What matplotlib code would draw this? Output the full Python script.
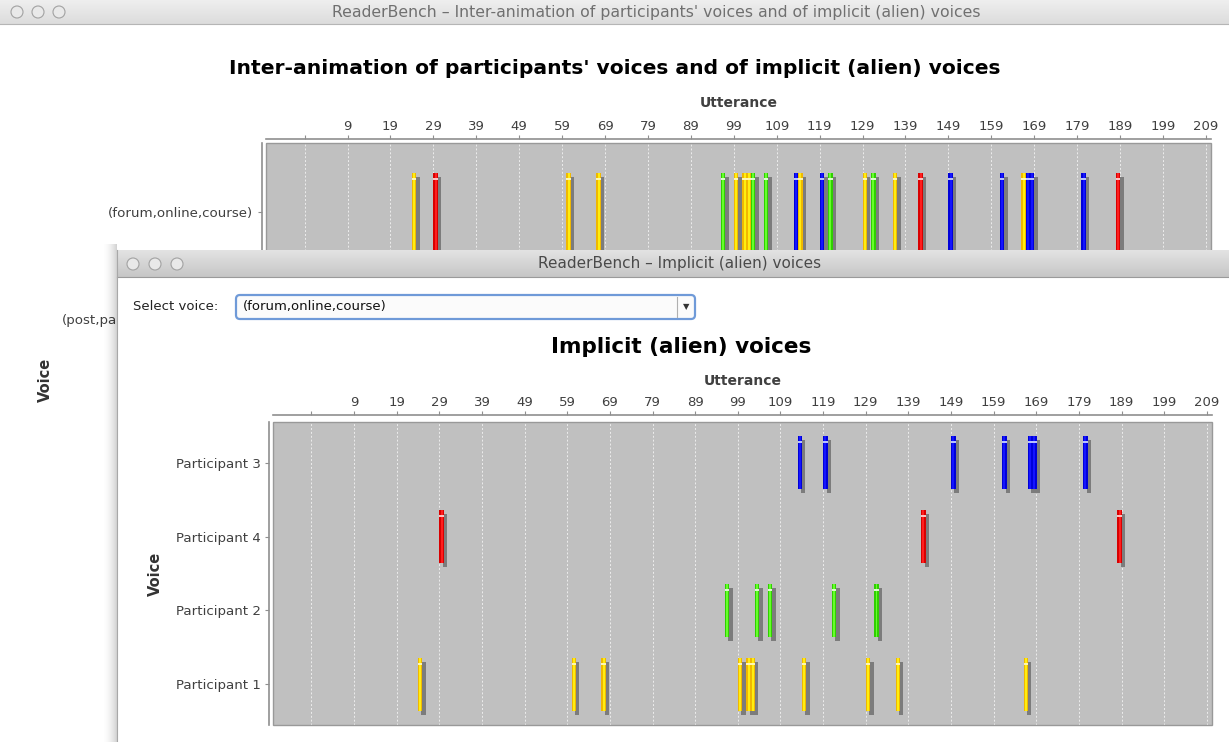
import numpy as np
import matplotlib.pyplot as plt
from matplotlib.patches import Rectangle, Circle, FancyBboxPatch
from matplotlib.colors import to_rgb

# utterances in which each participant's (alien) voice occurs
p1_utterances = [24, 60, 67, 99, 101, 102, 114, 129, 136, 166]
p2_utterances = [96, 103, 106, 121, 131]
p3_utterances = [113, 119, 149, 161, 167, 168, 180]
p4_utterances = [29, 142, 188]

# rows of the lower chart, top to bottom
participants = ['Participant 3', 'Participant 4', 'Participant 2', 'Participant 1']
# rows of the upper chart (only the first two are visible)
top_voices = ['(forum,online,course)', '(post,participant,comments)']
x_ticks = list(range(-1, 210, 10))

utterances = {
    'Participant 1': p1_utterances,
    'Participant 2': p2_utterances,
    'Participant 3': p3_utterances,
    'Participant 4': p4_utterances,
}
# base, light centre, highlight
colors = {
    'Participant 1': ('#F0B800', '#FFEE10', '#FFF6B0'),
    'Participant 2': ('#2FCF00', '#66FF2A', '#D8FFC8'),
    'Participant 3': ('#0000D8', '#1414FF', '#B8C0FF'),
    'Participant 4': ('#D80000', '#FF1E1E', '#FFC0C0'),
}

W, H = 1229, 742
plt.rcParams['font.family'] = 'DejaVu Sans'
fig = plt.figure(figsize=(W / 100, H / 100), dpi=100)
fig.patch.set_facecolor('white')


def frac(x0, y0, x1, y1):
    return [x0 / W, 1 - y1 / H, (x1 - x0) / W, (y1 - y0) / H]


def pixel_axes(x0, y0, x1, y1, z):
    a = fig.add_axes(frac(x0, y0, x1, y1), zorder=z)
    a.axis('off')
    return a


def vgrad(a, x0, x1, y0, y1, c0, c1):
    t = np.linspace(0, 1, 64)[:, None, None]
    img = (1 - t) * np.array(to_rgb(c0)) + t * np.array(to_rgb(c1))
    a.imshow(img, extent=(x0, x1, y1, y0), aspect='auto', interpolation='bilinear', zorder=1)


def buttons(a, xs, y):
    for x in xs:
        a.add_patch(Circle((x, y), 6, fc='#E9E9E9', ec='#A2A2A2', lw=0.8, zorder=3))


def style_chart(ax, top_out, left_out):
    ax.set_facecolor('#C0C0C0')
    ax.set_xlim(-10, 210.2)
    ax.xaxis.tick_top()
    ax.set_xticks(x_ticks, ['' if t < 0 else str(t) for t in x_ticks])
    ax.grid(axis='x', color='#EDEDED', linestyle=(0, (2, 2)), linewidth=0.7)
    ax.set_axisbelow(True)
    for s in ['bottom', 'right']:
        ax.spines[s].set_visible(False)
    ax.spines['top'].set_position(('outward', top_out))
    ax.spines['left'].set_position(('outward', left_out))
    for s in ['top', 'left']:
        ax.spines[s].set_color('#8F8F8F')
        ax.spines[s].set_linewidth(1.2)
    ax.add_patch(Rectangle((0, 0), 1, 1, transform=ax.transAxes, fill=False,
                           ec='#999999', lw=1.0, zorder=6, clip_on=False))
    ax.tick_params(axis='x', top=True, bottom=False, length=3, width=0.8, color='#8F8F8F',
                   labelsize=9.5, labelcolor='#404040', pad=1.5)
    ax.tick_params(axis='y', length=3, width=0.8, color='#8F8F8F',
                   labelsize=9.6, labelcolor='#404040', pad=3)
    ax.set_xlabel('Utterance', fontsize=10, weight='bold', color='#404040')
    ax.xaxis.set_label_position('top')
    ax.xaxis.label.set_va('center')
    ax.set_ylabel('Voice', fontsize=10.5, weight='bold', color='#333333')
    ax.yaxis.label.set_va('center')


def draw_bars(ax, row, xs, who, px_y):
    base, light, hi = colors[who]
    xs = np.asarray(xs, float)
    half = 0.36
    bw = 1.05
    ax.bar(xs + 0.8, 2 * half, bottom=row - half + 4 / px_y, width=bw, align='edge',
           color='#7C7C7C', zorder=2)
    ax.bar(xs, 2 * half, bottom=row - half, width=bw, align='edge', color=base, zorder=3)
    ax.bar(xs + 0.3, 2 * half, bottom=row - half, width=0.45, align='edge', color=light, zorder=4)
    ax.bar(xs, 2 / px_y, bottom=row - half + 5 / px_y, width=bw, align='edge', color=hi, zorder=5)


# ---- back window ----
bg = pixel_axes(0, 0, W, H, 0)
vgrad(bg, 0, W, 0, 24, '#EFEFEF', '#DCDCDC')
bg.plot([0, W], [24, 24], color='#B5B5B5', lw=0.8)
buttons(bg, [17, 38, 59], 12)
bg.text(656, 12, "ReaderBench – Inter-animation of participants' voices and of implicit (alien) voices",
        ha='center', va='center', fontsize=11.3, color='#707070')
bg.text(615, 68, "Inter-animation of participants' voices and of implicit (alien) voices",
        ha='center', va='center', fontsize=14.6, weight='bold', color='black')
bg.set_xlim(0, W)
bg.set_ylim(H, 0)

ax1 = fig.add_axes(frac(266, 143, 1211, 601), zorder=1)
style_chart(ax1, 3, 3)
ax1.set_ylim(3.645, -0.645)
ax1.set_yticks(range(len(top_voices)), top_voices)
for who in ['Participant 1', 'Participant 2', 'Participant 3', 'Participant 4']:
    draw_bars(ax1, 0, utterances[who], who, 107)
ax1.xaxis.set_label_coords(0.5, 1 + 40 / 458)
ax1.yaxis.set_label_coords((45 - 266) / 945, (601 - 380) / 458)

# ---- front window ----
win = pixel_axes(95, 235, W, H, 5)
sh = np.zeros((1, 32, 4))
sh[..., 3] = np.linspace(0, 1, 32) ** 2 * 0.18
win.imshow(sh, extent=(101, 117, H, 244), aspect='auto', zorder=0)
win.add_patch(Rectangle((117, 250), W - 117, H - 250, fc='white', ec='none', zorder=1))
vgrad(win, 117, W, 250, 277, '#E3E3E3', '#C6C6C6')
win.plot([117, W], [277, 277], color='#9A9A9A', lw=0.8, zorder=2)
win.plot([117, 117], [250, H], color='#A8A8A8', lw=0.8, zorder=2)
buttons(win, [133, 155, 177], 264)
win.text(680, 264, 'ReaderBench – Implicit (alien) voices', ha='center', va='center',
         fontsize=11, color='#4A4A4A', zorder=3)
win.text(133, 307, 'Select voice:', ha='left', va='center', fontsize=9.5, color='#222222', zorder=3)
win.add_patch(FancyBboxPatch((236, 295), 459, 24, boxstyle='round,pad=0,rounding_size=4',
                             fc='#FBFBFB', ec='#6F9AD8', lw=1.6, zorder=3))
win.plot([677, 677], [297, 317], color='#B0B0B0', lw=0.8, zorder=4)
win.text(686, 307, '▼', ha='center', va='center', fontsize=6, color='#333333', zorder=4)
win.text(243, 307, '(forum,online,course)', ha='left', va='center', fontsize=9.5,
         color='#111111', zorder=4)
win.text(681, 347, 'Implicit (alien) voices', ha='center', va='center', fontsize=15.5,
         weight='bold', color='black', zorder=3)
win.set_xlim(95, W)
win.set_ylim(H, 235)

ax2 = fig.add_axes(frac(273, 422, 1212, 725), zorder=6)
style_chart(ax2, 5, 3)
ax2.set_ylim(3.556, -0.556)
ax2.set_yticks(range(len(participants)), participants)
for row, who in enumerate(participants):
    draw_bars(ax2, row, utterances[who], who, 73.7)
ax2.xaxis.set_label_coords(0.5, 1 + 41 / 303)
ax2.yaxis.set_label_coords((155 - 273) / 939, 0.5)

fig.savefig('out.png', dpi=100)
